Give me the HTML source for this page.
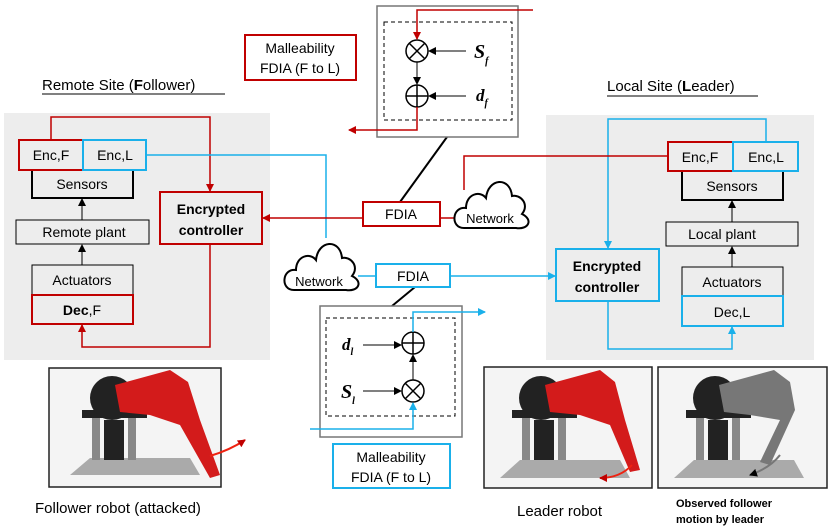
<!DOCTYPE html>
<html><head><meta charset="utf-8"><style>
body{margin:0;background:#fff}
svg{display:block;font-family:"Liberation Sans",Arial,sans-serif}
</style></head><body>
<svg width="831" height="532" viewBox="0 0 831 532" xmlns="http://www.w3.org/2000/svg">
<defs>
<marker id="ab" markerWidth="8" markerHeight="8" refX="7" refY="4" orient="auto" markerUnits="userSpaceOnUse"><path d="M0,0 L8,4 L0,8z" fill="#000"/></marker>
<marker id="ar" markerWidth="8" markerHeight="8" refX="7" refY="4" orient="auto" markerUnits="userSpaceOnUse"><path d="M0,0 L8,4 L0,8z" fill="#c00000"/></marker>
<marker id="au" markerWidth="8" markerHeight="8" refX="7" refY="4" orient="auto" markerUnits="userSpaceOnUse"><path d="M0,0 L8,4 L0,8z" fill="#1ab0ea"/></marker>
</defs>
<rect x="4" y="113" width="266" height="247" fill="#ededed"/>
<rect x="546" y="115" width="268" height="245" fill="#ededed"/>
<text x="42" y="90" font-size="15">Remote Site (<tspan font-weight="bold">F</tspan>ollower)</text>
<line x1="42" y1="94" x2="225" y2="94" stroke="#000" stroke-width="1"/>
<text x="607" y="91" font-size="15">Local Site (<tspan font-weight="bold">L</tspan>eader)</text>
<line x1="607" y1="96" x2="758" y2="96" stroke="#000" stroke-width="1"/>

<g font-size="14" text-anchor="middle">
<rect x="32" y="170" width="101" height="28" fill="#ededed" stroke="#000" stroke-width="2"/>
<text x="82" y="189">Sensors</text>
<rect x="19" y="140" width="64" height="30" fill="#ededed" stroke="#c00000" stroke-width="2"/>
<text x="51" y="160">Enc,F</text>
<rect x="83" y="140" width="63" height="30" fill="#ededed" stroke="#1ab0ea" stroke-width="2"/>
<text x="115" y="160">Enc,L</text>
<rect x="16" y="220" width="133" height="24" fill="#ededed" stroke="#000"/>
<text x="84" y="237">Remote plant</text>
<rect x="32" y="265" width="101" height="30" fill="#ededed" stroke="#000"/>
<text x="82" y="285">Actuators</text>
<rect x="32" y="295" width="101" height="29" fill="#ededed" stroke="#c00000" stroke-width="2"/>
<text x="82" y="315"><tspan font-weight="bold">Dec</tspan>,F</text>
<rect x="160" y="192" width="102" height="52" fill="#ededed" stroke="#c00000" stroke-width="2"/>
<text x="211" y="214" font-weight="bold">Encrypted</text>
<text x="211" y="235" font-weight="bold">controller</text>
<line x1="82" y1="220" x2="82" y2="199" stroke="#000" marker-end="url(#ab)"/>
<line x1="82" y1="265" x2="82" y2="245" stroke="#000" marker-end="url(#ab)"/>
<polyline points="51,140 51,117 210,117 210,191" fill="none" stroke="#c00000" stroke-width="1.5" marker-end="url(#ar)"/>
<polyline points="210,244 210,347 82,347 82,325" fill="none" stroke="#c00000" stroke-width="1.5" marker-end="url(#ar)"/>
<polyline points="146,155 326,155 326,238" fill="none" stroke="#1ab0ea" stroke-width="1.5"/>

<rect x="682" y="171" width="101" height="29" fill="#ededed" stroke="#000" stroke-width="2"/>
<text x="732" y="191">Sensors</text>
<rect x="668" y="142" width="65" height="29" fill="#ededed" stroke="#c00000" stroke-width="2"/>
<text x="700" y="162">Enc,F</text>
<rect x="733" y="142" width="65" height="29" fill="#ededed" stroke="#1ab0ea" stroke-width="2"/>
<text x="766" y="162">Enc,L</text>
<rect x="666" y="222" width="132" height="24" fill="#ededed" stroke="#000"/>
<text x="722" y="239">Local plant</text>
<rect x="682" y="267" width="101" height="29" fill="#ededed" stroke="#000"/>
<text x="732" y="287">Actuators</text>
<rect x="682" y="296" width="101" height="30" fill="#ededed" stroke="#1ab0ea" stroke-width="2"/>
<text x="732" y="317">Dec,L</text>
<rect x="556" y="249" width="103" height="52" fill="#ededed" stroke="#1ab0ea" stroke-width="2"/>
<text x="607" y="271" font-weight="bold">Encrypted</text>
<text x="607" y="292" font-weight="bold">controller</text>
<line x1="732" y1="222" x2="732" y2="201" stroke="#000" marker-end="url(#ab)"/>
<line x1="732" y1="267" x2="732" y2="247" stroke="#000" marker-end="url(#ab)"/>
<polyline points="766,142 766,119 608,119 608,248" fill="none" stroke="#1ab0ea" stroke-width="1.5" marker-end="url(#au)"/>
<polyline points="608,301 608,349 732,349 732,327" fill="none" stroke="#1ab0ea" stroke-width="1.5" marker-end="url(#au)"/>
<polyline points="464,190 464,156 668,156" fill="none" stroke="#c00000" stroke-width="1.5"/>

<line x1="400" y1="202" x2="447" y2="137" stroke="#000" stroke-width="2"/>
<line x1="415" y1="287" x2="392" y2="306" stroke="#000" stroke-width="2"/>
<rect x="363" y="202" width="77" height="24" fill="#fff" stroke="#c00000" stroke-width="2"/>
<text x="401" y="219">FDIA</text>
<line x1="363" y1="218" x2="263" y2="218" stroke="#c00000" stroke-width="1.5" marker-end="url(#ar)"/>
<line x1="440" y1="218" x2="456" y2="218" stroke="#c00000" stroke-width="1.5"/>
<rect x="376" y="264" width="74" height="23" fill="#fff" stroke="#1ab0ea" stroke-width="2"/>
<text x="413" y="281">FDIA</text>
<line x1="358" y1="276" x2="376" y2="276" stroke="#1ab0ea" stroke-width="1.5"/>
<line x1="450" y1="276" x2="555" y2="276" stroke="#1ab0ea" stroke-width="1.5" marker-end="url(#au)"/>

<rect x="245" y="35" width="111" height="45" fill="#fff" stroke="#c00000" stroke-width="2"/>
<text x="300" y="53">Malleability</text>
<text x="300" y="73">FDIA (F to L)</text>
<rect x="333" y="444" width="117" height="44" fill="#fff" stroke="#1ab0ea" stroke-width="2"/>
<text x="391" y="462">Malleability</text>
<text x="391" y="482">FDIA (F to L)</text>
</g>

<g fill="#fff" stroke="#000" stroke-width="2">
<path d="M294,290 C280,290 282,268 296,270 C296,256 310,252 316,260 C318,240 340,238 342,258 C350,256 360,266 352,276 C364,282 358,292 346,290 Z"/>
<path d="M464,228 C450,228 452,206 466,208 C466,194 480,190 486,198 C488,178 510,176 512,196 C520,194 530,204 522,214 C534,220 528,230 516,228 Z"/>
</g>
<text x="319" y="286" font-size="13" text-anchor="middle">Network</text>
<text x="490" y="223" font-size="13" text-anchor="middle">Network</text>

<rect x="377" y="6" width="141" height="131" fill="#fff" stroke="#777" stroke-width="1.5"/>
<rect x="384" y="22" width="128" height="98" fill="none" stroke="#000" stroke-dasharray="4,3"/>
<circle cx="417" cy="51" r="11" fill="#fff" stroke="#000" stroke-width="1.5"/>
<path d="M409,43 L425,59 M425,43 L409,59" stroke="#000" stroke-width="1.5"/>
<circle cx="417" cy="96" r="11" fill="#fff" stroke="#000" stroke-width="1.5"/>
<path d="M406,96 H428 M417,85 V107" stroke="#000" stroke-width="1.5"/>
<polyline points="533,10 417,10 417,39" fill="none" stroke="#c00000" stroke-width="1.5" marker-end="url(#ar)"/>
<line x1="417" y1="62" x2="417" y2="84" stroke="#000" marker-end="url(#ab)"/>
<polyline points="417,107 417,130 349,130" fill="none" stroke="#c00000" stroke-width="1.5" marker-end="url(#ar)"/>
<line x1="466" y1="51" x2="429" y2="51" stroke="#000" marker-end="url(#ab)"/>
<line x1="466" y1="96" x2="429" y2="96" stroke="#000" marker-end="url(#ab)"/>
<text x="474" y="58" font-family="Liberation Serif,serif" font-style="italic" font-weight="bold" font-size="20">S<tspan font-size="10" dy="6">f</tspan></text>
<text x="476" y="101" font-family="Liberation Serif,serif" font-style="italic" font-weight="bold" font-size="17">d<tspan font-size="10" dy="5">f</tspan></text>

<rect x="320" y="306" width="142" height="131" fill="#fff" stroke="#777" stroke-width="1.5"/>
<rect x="326" y="318" width="129" height="98" fill="none" stroke="#000" stroke-dasharray="4,3"/>
<circle cx="413" cy="343" r="11" fill="#fff" stroke="#000" stroke-width="1.5"/>
<path d="M402,343 H424 M413,332 V354" stroke="#000" stroke-width="1.5"/>
<circle cx="413" cy="391" r="11" fill="#fff" stroke="#000" stroke-width="1.5"/>
<path d="M405,383 L421,399 M421,383 L405,399" stroke="#000" stroke-width="1.5"/>
<line x1="413" y1="380" x2="413" y2="355" stroke="#000" marker-end="url(#ab)"/>
<line x1="363" y1="345" x2="401" y2="345" stroke="#000" marker-end="url(#ab)"/>
<line x1="363" y1="391" x2="401" y2="391" stroke="#000" marker-end="url(#ab)"/>
<polyline points="310,429 413,429 413,403" fill="none" stroke="#1ab0ea" stroke-width="1.5" marker-end="url(#au)"/>
<polyline points="413,332 413,312 485,312" fill="none" stroke="#1ab0ea" stroke-width="1.5" marker-end="url(#au)"/>
<text x="342" y="350" font-family="Liberation Serif,serif" font-style="italic" font-weight="bold" font-size="17">d<tspan font-size="10" dy="5">l</tspan></text>
<text x="341" y="398" font-family="Liberation Serif,serif" font-style="italic" font-weight="bold" font-size="20">S<tspan font-size="10" dy="6">l</tspan></text>

<g>
<rect x="49" y="368" width="172" height="119" fill="#f4f4f4" stroke="#222" stroke-width="1.5"/>
<path d="M70,475 L90,458 L190,458 L200,475 Z" fill="#aaa"/>
<rect x="92" y="415" width="8" height="45" fill="#888"/><rect x="128" y="415" width="8" height="45" fill="#888"/>
<rect x="104" y="420" width="20" height="40" fill="#222"/>
<rect x="82" y="410" width="65" height="8" fill="#222"/>
<circle cx="112" cy="398" r="22" fill="#222"/>
<path d="M115,385 L170,370 L188,382 L200,420 L220,475 L210,478 L180,425 L150,415 L120,412 Z" fill="#d31b1b"/>
<path d="M210,456 Q230,450 245,440" fill="none" stroke="#e21" stroke-width="2" marker-end="url(#ar)"/>

<rect x="484" y="367" width="168" height="121" fill="#f4f4f4" stroke="#222" stroke-width="1.5"/>
<path d="M500,478 L520,460 L620,460 L630,478 Z" fill="#aaa"/>
<rect x="522" y="415" width="8" height="45" fill="#888"/><rect x="558" y="415" width="8" height="45" fill="#888"/>
<rect x="534" y="420" width="20" height="40" fill="#222"/>
<rect x="512" y="410" width="65" height="8" fill="#222"/>
<circle cx="541" cy="398" r="22" fill="#222"/>
<path d="M545,385 L600,370 L615,382 L625,420 L640,470 L630,472 L610,425 L580,415 L550,412 Z" fill="#d31b1b"/>
<path d="M632,465 Q620,478 600,478" fill="none" stroke="#e21" stroke-width="2" marker-end="url(#ar)"/>

<rect x="658" y="367" width="169" height="121" fill="#f4f4f4" stroke="#222" stroke-width="1.5"/>
<path d="M674,478 L694,460 L794,460 L804,478 Z" fill="#aaa"/>
<rect x="696" y="415" width="8" height="45" fill="#888"/><rect x="732" y="415" width="8" height="45" fill="#888"/>
<rect x="708" y="420" width="20" height="40" fill="#222"/>
<rect x="686" y="410" width="65" height="8" fill="#222"/>
<circle cx="715" cy="398" r="22" fill="#222"/>
<path d="M719,385 L774,370 L790,382 L795,410 L770,465 L760,462 L780,420 L750,415 L724,412 Z" fill="#777"/>
<path d="M780,455 Q770,468 750,475" fill="none" stroke="#777" stroke-width="2" marker-end="url(#ab)"/>
</g>
<text x="35" y="513" font-size="15">Follower robot (attacked)</text>
<text x="517" y="516" font-size="15">Leader robot</text>
<text x="676" y="507" font-size="11" font-weight="bold">Observed follower</text>
<text x="676" y="523" font-size="11" font-weight="bold">motion by leader</text>
</svg>
</body></html>
